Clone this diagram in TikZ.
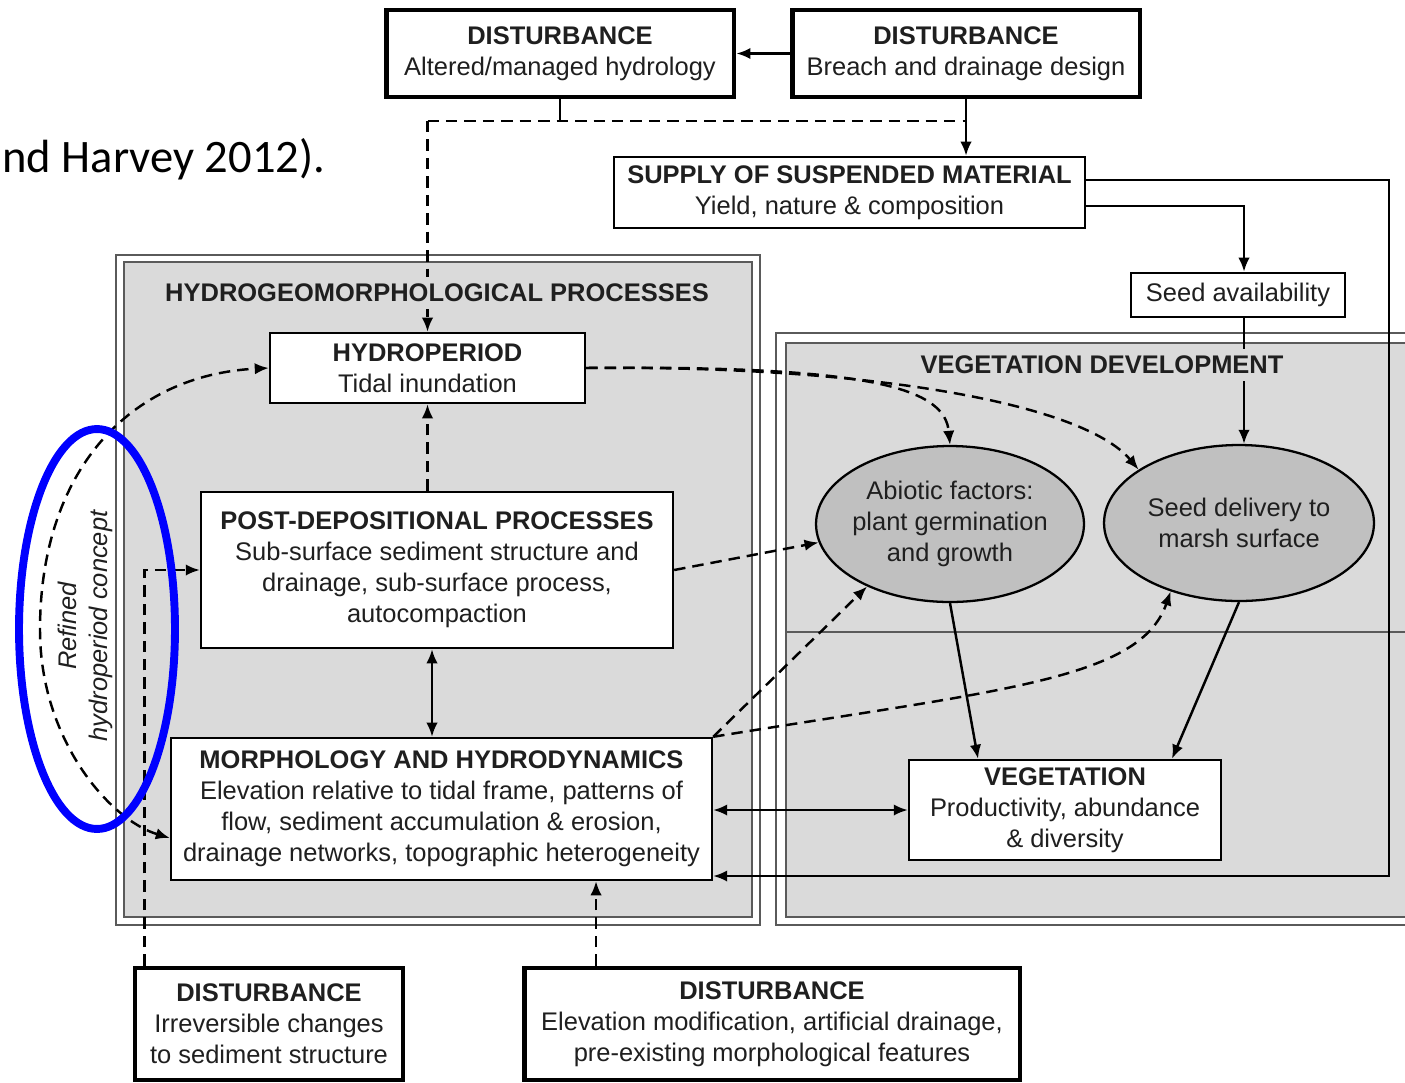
\documentclass[tikz,border=0pt]{standalone}
\usepackage{fontspec}
\setmainfont{Liberation Sans}
\newfontfamily\citefont{Carlito}
\usetikzlibrary{arrows.meta,shapes.geometric}
\definecolor{panelgray}{RGB}{218,218,218}
\definecolor{ellgray}{RGB}{192,192,192}
\definecolor{framegray}{RGB}{90,90,90}

\begin{document}
\begin{tikzpicture}[x=0.02cm, y=-0.02cm, >={Latex[length=8pt,width=6.5pt]},
        every node/.style={font=\fontsize{14.5}{17.6}\selectfont, text=black!88},
        procbox/.style={draw, line width=1.4pt, fill=white, align=center, inner sep=0pt},
        distbox/.style={draw, line width=2.8pt, fill=white, align=center, inner sep=0pt},
        factor/.style={ellipse, draw, line width=1.3pt, fill=ellgray, align=center, inner xsep=-2pt, inner ysep=0pt},
        paneltitle/.style={fill=panelgray, inner xsep=2pt, inner ysep=4pt, font=\fontsize{14.5}{17.6}\selectfont\bfseries},
        panel/.style={draw=framegray, line width=0.8pt},
        link/.style={line width=1.4pt},
        dashlink/.style={line width=1.4pt, dash pattern=on 6.5pt off 4pt}]
        \useasboundingbox (0,0) rectangle (1405,1082);
        \clip (0,0) rectangle (1405,1082);
        % citation text cut at the left edge
        \node[font=\citefont\fontsize{26.5}{31}\selectfont, text=black, anchor=base west, inner sep=0pt] (citation) at (2,172) {nd Harvey 2012).};
        % panels
        \draw[panel, fill=white]     (116,255) rectangle (760,925);
        \draw[panel, fill=panelgray] (124,262) rectangle (752,917);
        \draw[panel, fill=white]     (776,333) rectangle (1420,925);
        \draw[panel, fill=panelgray] (786,343) rectangle (1420,917);
        \draw[panel] (786,632) -- (1405,632);
        % boxes
        \node[distbox, minimum width=6.96cm, minimum height=1.74cm] (dhydro) at (560,53.5) {\textbf{DISTURBANCE}\\Altered/managed hydrology};
        \node[distbox, minimum width=6.96cm, minimum height=1.74cm] (dbreach) at (966,53.5) {\textbf{DISTURBANCE}\\Breach and drainage design};
        \node[procbox, minimum width=9.42cm, minimum height=1.42cm] (supply) at (849.5,192.5) {\textbf{SUPPLY OF SUSPENDED MATERIAL}\\Yield, nature \& composition};
        \node[procbox, minimum width=4.28cm, minimum height=0.88cm] (seedav) at (1238,295) {Seed availability};
        \node[procbox, minimum width=6.3cm, minimum height=1.4cm] (hydro) at (427.5,368) {\textbf{HYDROPERIOD}\\Tidal inundation};
        \node[procbox, minimum width=9.44cm, minimum height=3.12cm] (postdep) at (437,570) {\textbf{POST-DEPOSITIONAL PROCESSES}\\Sub-surface sediment structure and\\drainage, sub-surface process,\\autocompaction};
        \node[procbox, minimum width=10.82cm, minimum height=2.84cm] (morph) at (441.5,809) {\textbf{MORPHOLOGY AND HYDRODYNAMICS}\\Elevation relative to tidal frame, patterns of\\flow, sediment accumulation \& erosion,\\drainage networks, topographic heterogeneity};
        \node[procbox, minimum width=6.24cm, minimum height=2cm] (veg) at (1065,810) {\textbf{VEGETATION}\\Productivity, abundance\\\& diversity};
        \node[factor, minimum width=5.36cm, minimum height=3.12cm] (abiotic) at (950,524) {Abiotic factors:\\plant germination\\and growth};
        \node[factor, minimum width=5.4cm, minimum height=3.12cm] (seeddel) at (1239,523) {Seed delivery to\\marsh surface};
        \node[distbox, minimum width=5.36cm, minimum height=2.24cm] (dsediment) at (269,1024) {\textbf{DISTURBANCE}\\Irreversible changes\\to sediment structure};
        \node[distbox, minimum width=9.92cm, minimum height=2.24cm] (delev) at (772,1024) {\textbf{DISTURBANCE}\\Elevation modification, artificial drainage,\\pre-existing morphological features};
        % top disturbances
        \coordinate (topbus) at (560,121);
        \coordinate (rightbus) at (1389,876);
        \coordinate (arcleft) at (40,630);
        \draw[link,->] (dbreach) -- (dhydro);
        \draw[link,->] (dbreach.south) -- (dbreach.south |- supply.north);
        \draw[link] (dhydro.south) -- (topbus);
        \draw[dashlink] (hydro.north |- topbus) -- (dbreach.south |- topbus);
        \draw[dashlink,->] (hydro.north |- topbus) -- (hydro.north);
        % suspended material
        \draw[link,->] ([yshift=-0.27cm]supply.east) -| ([xshift=0.12cm]seedav.north);
        \draw[link,->] ([yshift=0.25cm]supply.east) -| (rightbus) -- (morph.east |- rightbus);
        \draw[link,->] ([xshift=0.12cm]seedav.south) -- ([xshift=0.12cm]seedav.south |- seeddel.north);
        % hydroperiod to vegetation development
        \draw[dashlink,->] (hydro.east) .. controls (880,365) and (945,390) .. (abiotic.north);
        \draw[dashlink,->] (hydro.east) .. controls (850,365) and (1080,400) .. (seeddel.152);
        % refined hydroperiod concept
        \draw[dashlink,<->] ([yshift=-0.58cm]morph.west) .. controls (110,820) and (40,740) .. (arcleft) .. controls (40,470) and (130,375) .. (hydro.west);
        \node[rotate=90, align=center, font=\fontsize{14.5}{17.6}\selectfont\itshape] (refined) at (85,626) {Refined\\hydroperiod concept};
        % processes
        \draw[dashlink,->] ([xshift=0.24cm]dsediment.north west) |- (postdep.west);
        \draw[dashlink,->] (postdep.east) -- (abiotic.188);
        \draw[link,<->] ([xshift=-0.1cm]postdep.south) -- ([xshift=-0.1cm]postdep.south |- morph.north);
        \draw[dashlink,->] (postdep.north -| hydro.south) -- (hydro.south);
        \draw[dashlink,->] (morph.north east) -- (abiotic.217);
        \draw[dashlink,->] (morph.north east) .. controls (1000,690) and (1140,680) .. (seeddel.225);
        \draw[link,->] (abiotic.south) -- ([xshift=-1.74cm]veg.north);
        \draw[link,->] (seeddel.south) -- ([xshift=2.14cm]veg.north);
        \draw[link,<->] (morph.east |- veg.west) -- (veg.west);
        \draw[dashlink,->] ([xshift=-3.52cm]delev.north) -- ([xshift=-3.52cm]delev.north |- morph.south);
        % panel titles
        \node[paneltitle] (hgtitle) at (437,293) {HYDROGEOMORPHOLOGICAL PROCESSES};
        \node[paneltitle] (vdtitle) at (1102,365) {VEGETATION DEVELOPMENT};
        % highlight
        \draw[blue, line width=4.5pt] (97,629) ellipse [x radius=1.56cm, y radius=4cm];
    \end{tikzpicture}
\end{document}
